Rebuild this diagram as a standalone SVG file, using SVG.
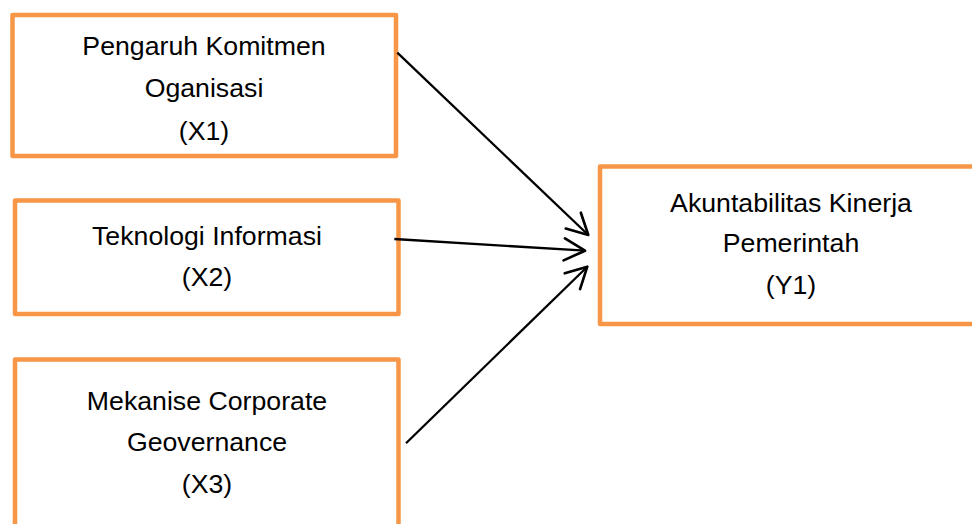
<svg xmlns="http://www.w3.org/2000/svg" width="972" height="524" viewBox="0 0 972 524">
<defs>
<style>
.box{fill:#FFFFFF;stroke:#F79646;stroke-width:4.5;stroke-linejoin:round}
.t{font-family:"Liberation Sans",Arial,sans-serif;font-size:26.7px;fill:#000000;text-anchor:middle}
.c{stroke:#000000;stroke-width:2.3;fill:none}
</style>
<marker id="ah" markerUnits="userSpaceOnUse" markerWidth="30" markerHeight="30" viewBox="-22 -13 26 26" refX="0" refY="0" orient="auto">
<path d="M -18 -9.5 L 0 0 L -18 9.5" fill="none" stroke="#000000" stroke-width="2.3" stroke-linecap="round" stroke-linejoin="round"/>
</marker>
</defs>
<rect width="972" height="524" fill="#FFFFFF"/>
<g id="x1">
<rect class="box" x="12.5" y="15" width="383.5" height="141"/>
<text class="t" x="204" y="55">Pengaruh Komitmen</text>
<text class="t" x="204" y="97">Oganisasi</text>
<text class="t" x="204" y="140">(X1)</text>
</g>
<g id="x2">
<rect class="box" x="15" y="200.5" width="383.5" height="113.5"/>
<text class="t" x="207" y="245">Teknologi Informasi</text>
<text class="t" x="207" y="286">(X2)</text>
</g>
<g id="x3">
<rect class="box" x="15" y="359.5" width="383.5" height="200"/>
<text class="t" x="207" y="410">Mekanise Corporate</text>
<text class="t" x="207" y="451">Geovernance</text>
<text class="t" x="207" y="493">(X3)</text>
</g>
<g id="y1">
<rect class="box" x="600" y="166.5" width="400" height="157.5"/>
<text class="t" x="791" y="212">Akuntabilitas Kinerja</text>
<text class="t" x="791" y="252">Pemerintah</text>
<text class="t" x="791" y="294">(Y1)</text>
</g>
<g id="connectors">
<line class="c" x1="397.3" y1="52.7" x2="588.3" y2="235" marker-end="url(#ah)"/>
<line class="c" x1="394.3" y1="239" x2="585" y2="250.7" marker-end="url(#ah)"/>
<line class="c" x1="406" y1="443.3" x2="587.3" y2="266.7" marker-end="url(#ah)"/>
</g>
</svg>
